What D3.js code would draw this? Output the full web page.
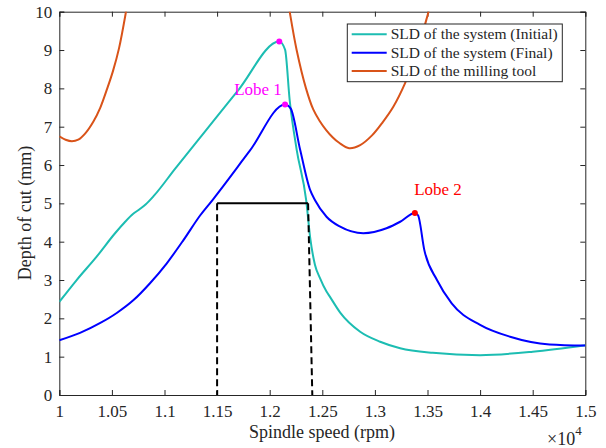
<!DOCTYPE html>
<html>
<head>
<meta charset="utf-8">
<script src="https://cdn.jsdelivr.net/npm/d3@7"></script>
<style>
  html, body { margin: 0; padding: 0; background: #fff; }
  svg text { font-family: "Liberation Serif", "DejaVu Serif", serif !important; fill: #262626; }
</style>
</head>
<body>
<svg id="chart" width="606" height="448" font-family="Liberation Serif"></svg>
<script>
// ---- data (x in units of 1e4 rpm, y in mm) ----
const initialX = [1.000,1.0165,1.0355,1.053,1.062,1.070,1.076,1.082,1.090,1.110,1.134,1.170,1.2091,1.2146,1.219,1.2257,1.2347,1.2385,1.2430,1.2478,1.254,1.2573,1.267,1.286,1.305,1.324,1.355,1.400,1.450,1.500];
const initialY = [2.43,3.00,3.61,4.22,4.50,4.72,4.84,4.97,5.20,5.90,6.72,7.95,9.22,9.01,7.69,6.39,5.08,4.10,3.40,3.05,2.70,2.56,2.15,1.65,1.39,1.22,1.10,1.04,1.13,1.30];

const finalX = [1.000,1.0197,1.039,1.0546,1.0703,1.086,1.102,1.118,1.134,1.146,1.1813,1.2146,1.220,1.229,1.2384,1.2431,1.254,1.267,1.289,1.311,1.324,1.338,1.341,1.347,1.359,1.373,1.400,1.4285,1.466,1.500];
const finalY = [1.43,1.62,1.88,2.14,2.47,2.91,3.43,4.04,4.69,5.10,6.38,7.58,7.47,6.39,5.35,5.08,4.65,4.39,4.22,4.35,4.52,4.75,4.69,3.78,3.00,2.39,1.83,1.52,1.32,1.29];

const toolAX = [1.000,1.006,1.012,1.018,1.0245,1.0323,1.039,1.0456,1.051,1.0568,1.0634,1.067];
const toolAY = [6.75,6.66,6.62,6.66,6.82,7.13,7.50,8.00,8.45,9.05,10.0,10.6];
const toolBX = [1.215,1.219,1.2256,1.2345,1.2414,1.2475,1.2535,1.260,1.266,1.2755,1.286,1.2975,1.3075,1.3175,1.3286,1.340,1.351,1.354];
const toolBY = [10.7,10.0,9.00,8.00,7.45,7.15,6.92,6.72,6.58,6.44,6.52,6.78,7.12,7.52,8.13,8.95,10.0,10.3];

const boundX = [1.15, 1.2365];   // operating window
const boundY = 5.0;
const rightDashBottomX = 1.2405;

const lobe1Pts = [[1.2091, 9.22], [1.2146, 7.58]];
const lobe2Pt = [1.338, 4.75];

const xTicks = [1,1.05,1.1,1.15,1.2,1.25,1.3,1.35,1.4,1.45,1.5];
const yTicks = [0,1,2,3,4,5,6,7,8,9,10];
const legendLabels = ["SLD of the system (Initial)", "SLD of the system (Final)", "SLD of the milling tool"];

// ---- layout ----
const L = 59.3, R = 585.3, T = 11.7, B = 395;
const colors = { initial: "#1cbdb2", final: "#0000ff", tool: "#d95319" };
const FONT = "'Liberation Serif', 'DejaVu Serif', serif";

const svg = d3.select("#chart");
const x = d3.scaleLinear().domain([1, 1.5]).range([L, R]);
const y = d3.scaleLinear().domain([0, 10]).range([B, T]);

svg.append("defs").append("clipPath").attr("id", "clip")
  .append("rect").attr("x", L).attr("y", T).attr("width", R - L).attr("height", B - T);

// axes
const axisColor = "#262626";
const fmt = d => d3.format("")(d);
const xAxis = svg.append("g").attr("transform", `translate(0,${B})`)
  .call(d3.axisBottom(x).tickValues(xTicks).tickSize(-5).tickPadding(10).tickFormat(fmt));
const yAxis = svg.append("g").attr("transform", `translate(${L},0)`)
  .call(d3.axisLeft(y).tickValues(yTicks).tickSize(-5).tickPadding(7).tickFormat(d3.format("d")));
const xTop = svg.append("g").attr("transform", `translate(0,${T})`)
  .call(d3.axisTop(x).tickValues(xTicks).tickSize(-5).tickFormat(""));
const yRight = svg.append("g").attr("transform", `translate(${R},0)`)
  .call(d3.axisRight(y).tickValues(yTicks).tickSize(-5).tickFormat(""));
[xAxis, yAxis, xTop, yRight].forEach(g => {
  g.attr("font-family", FONT).attr("font-size", 17);
  g.select(".domain").attr("stroke", axisColor).attr("stroke-width", 1);
  g.selectAll(".tick line").attr("stroke", axisColor);
  g.selectAll("text").style("font-family", FONT).style("font-size", "17px").attr("fill", "#262626");
});

const plot = svg.append("g").attr("clip-path", "url(#clip)");
const line = d3.line().x(d => x(d[0])).y(d => y(d[1])).curve(d3.curveMonotoneX);
const smooth = d3.line().x(d => x(d[0])).y(d => y(d[1])).curve(d3.curveCatmullRom.alpha(0.5));
const zip = (a, b) => a.map((v, i) => [v, b[i]]);

plot.append("path").datum(zip(toolAX, toolAY)).attr("d", smooth)
  .attr("fill", "none").attr("stroke", colors.tool).attr("stroke-width", 2);
plot.append("path").datum(zip(toolBX, toolBY)).attr("d", smooth)
  .attr("fill", "none").attr("stroke", colors.tool).attr("stroke-width", 2);
plot.append("path").datum(zip(initialX, initialY)).attr("d", line)
  .attr("fill", "none").attr("stroke", colors.initial).attr("stroke-width", 2);
plot.append("path").datum(zip(finalX, finalY)).attr("d", line)
  .attr("fill", "none").attr("stroke", colors.final).attr("stroke-width", 2);

// operating window lines
const lin = d3.line().x(d => x(d[0])).y(d => y(d[1]));
plot.append("path").datum([[boundX[0], boundY], [boundX[1], boundY]]).attr("d", lin)
  .attr("stroke", "#000").attr("stroke-width", 2).attr("fill", "none");
plot.append("path").datum([[boundX[0], boundY], [boundX[0], 0]]).attr("d", lin)
  .attr("stroke", "#000").attr("stroke-width", 2).attr("stroke-dasharray", "7,4").attr("fill", "none");
plot.append("path").datum([[boundX[1], boundY], [rightDashBottomX, 0]]).attr("d", lin)
  .attr("stroke", "#000").attr("stroke-width", 2).attr("stroke-dasharray", "7,4").attr("fill", "none");

// markers
plot.selectAll(".m1").data(lobe1Pts).enter().append("circle")
  .attr("cx", d => x(d[0])).attr("cy", d => y(d[1])).attr("r", 3).attr("fill", "#ff00ff");
plot.append("circle").attr("cx", x(lobe2Pt[0])).attr("cy", y(lobe2Pt[1])).attr("r", 3).attr("fill", "#ff0000");

svg.append("text").attr("x", 258).attr("y", 95).attr("text-anchor", "middle")
  .style("font-family", FONT).style("font-size", "17px").style("fill", "#ff00ff").text("Lobe 1");
svg.append("text").attr("x", 438).attr("y", 195).attr("text-anchor", "middle")
  .style("font-family", FONT).style("font-size", "17px").style("fill", "#ff0000").text("Lobe 2");

// legend
const lg = svg.append("g");
lg.append("rect").attr("x", 347.3).attr("y", 24).attr("width", 215).attr("height", 57.7)
  .attr("fill", "#fff").attr("stroke", "#262626").attr("stroke-width", 1);
const lc = [colors.initial, colors.final, colors.tool];
legendLabels.forEach((t, i) => {
  const yy = 34.3 + i * 18.4;
  lg.append("line").attr("x1", 351.7).attr("x2", 386.7).attr("y1", yy).attr("y2", yy)
    .attr("stroke", lc[i]).attr("stroke-width", 2);
  lg.append("text").attr("x", 390.7).attr("y", yy + 5).style("font-family", FONT).style("font-size", "15.5px").text(t);
});

// axis labels
svg.append("text").attr("x", 322).attr("y", 438).attr("text-anchor", "middle")
  .style("font-family", FONT).style("font-size", "18px").text("Spindle speed (rpm)");
svg.append("text").attr("transform", `translate(31,213) rotate(-90)`).attr("text-anchor", "middle")
  .style("font-family", FONT).style("font-size", "18px").text("Depth of cut (mm)");
const ex = svg.append("text").attr("x", 547).attr("y", 445).style("font-family", FONT).style("font-size", "18px");
ex.append("tspan").text("×10");
ex.append("tspan").attr("dy", -10).style("font-size", "13px").text("4");
</script>
</body>
</html>
